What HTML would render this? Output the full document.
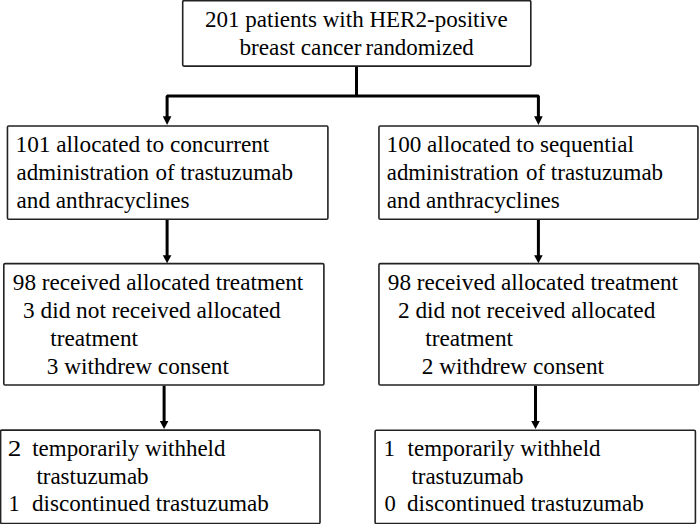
<!DOCTYPE html>
<html><head><meta charset="utf-8">
<style>
html,body{margin:0;padding:0;background:#fff;}
body{width:700px;height:524px;overflow:hidden;}
svg{display:block;}
text{font-family:"Liberation Serif",serif;font-size:24.0px;fill:#000;white-space:pre;}
</style></head>
<body>
<svg width="700" height="524" viewBox="0 0 700 524">
<rect x="0" y="0" width="700" height="524" fill="#fff"/>
<g fill="none" stroke="#222" stroke-width="1.6">
<rect x="182.7" y="0.6" width="348.1" height="65.5" rx="1.3"/>
<rect x="7.45" y="126.0" width="320.45" height="93.2" rx="1.3"/>
<rect x="378.95" y="125.95" width="319.0" height="93.25" rx="1.3"/>
<rect x="3.8" y="263.6" width="320.1" height="121.4" rx="1.3"/>
<rect x="378.95" y="263.6" width="320.05" height="121.4" rx="1.3"/>
<rect x="0.6" y="430.1" width="319.4" height="93.4" rx="1.3"/>
<rect x="375.1" y="430.2" width="320.3" height="93.3" rx="1.3"/>
</g>
<g stroke="#000" stroke-width="3.0" fill="none" stroke-linejoin="bevel">
<line x1="356.5" y1="66.8" x2="356.5" y2="96.1"/>
<polyline points="167.1,117 167.1,96.1 538.4,96.1 538.4,117"/>
<line x1="167.1" y1="220" x2="167.1" y2="256"/>
<line x1="538.4" y1="220" x2="538.4" y2="256"/>
<line x1="164.1" y1="385.8" x2="164.1" y2="422"/>
<line x1="535.5" y1="385.8" x2="535.5" y2="422"/>
</g>
<g fill="#000">
<polygon points="162.80,116.3 171.40,116.3 167.10,125"/>
<polygon points="534.10,116.3 542.70,116.3 538.40,125"/>
<polygon points="162.80,255.3 171.40,255.3 167.10,263.2"/>
<polygon points="534.10,255.3 542.70,255.3 538.40,263.2"/>
<polygon points="159.80,421 168.40,421 164.10,429.1"/>
<polygon points="531.20,421 539.80,421 535.50,429.1"/>
</g>
<text x="205.00" y="27.0" textLength="302.61" lengthAdjust="spacingAndGlyphs">201 patients with HER2-positive</text>
<text x="239.40" y="55.0" textLength="122.01" lengthAdjust="spacingAndGlyphs">breast cancer</text>
<text x="365.60" y="55.0" textLength="108.20" lengthAdjust="spacingAndGlyphs">randomized</text>
<text x="15.60" y="152.0" textLength="253.69" lengthAdjust="spacingAndGlyphs">101 allocated to concurrent</text>
<text x="16.60" y="180.0" textLength="132.46" lengthAdjust="spacingAndGlyphs">administration</text>
<text x="155.40" y="180.0" textLength="137.60" lengthAdjust="spacingAndGlyphs">of trastuzumab</text>
<text x="16.60" y="208.0" textLength="172.95" lengthAdjust="spacingAndGlyphs">and anthracyclines</text>
<text x="386.60" y="152.0" textLength="247.29" lengthAdjust="spacingAndGlyphs">100 allocated to sequential</text>
<text x="386.80" y="180.0" textLength="131.76" lengthAdjust="spacingAndGlyphs">administration</text>
<text x="526.00" y="180.0" textLength="137.10" lengthAdjust="spacingAndGlyphs">of trastuzumab</text>
<text x="386.80" y="208.0" textLength="172.95" lengthAdjust="spacingAndGlyphs">and anthracyclines</text>
<text x="12.80" y="290.0" textLength="290.52" lengthAdjust="spacingAndGlyphs">98 received allocated treatment</text>
<text x="23.00" y="318.0" textLength="257.72" lengthAdjust="spacingAndGlyphs">3 did not received allocated</text>
<text x="50.20" y="346.0" textLength="87.82" lengthAdjust="spacingAndGlyphs">treatment</text>
<text x="46.80" y="374.0" textLength="182.07" lengthAdjust="spacingAndGlyphs">3 withdrew consent</text>
<text x="387.80" y="290.0" textLength="290.22" lengthAdjust="spacingAndGlyphs">98 received allocated treatment</text>
<text x="398.00" y="318.0" textLength="257.32" lengthAdjust="spacingAndGlyphs">2 did not received allocated</text>
<text x="425.20" y="346.0" textLength="87.83" lengthAdjust="spacingAndGlyphs">treatment</text>
<text x="421.80" y="374.0" textLength="182.27" lengthAdjust="spacingAndGlyphs">2 withdrew consent</text>
<text x="7.80" y="456.0" textLength="13.60" lengthAdjust="spacingAndGlyphs">2</text>
<text x="32.20" y="456.0" textLength="193.25" lengthAdjust="spacingAndGlyphs">temporarily withheld</text>
<text x="36.40" y="484.0" textLength="112.20" lengthAdjust="spacingAndGlyphs">trastuzumab</text>
<text x="8.60" y="511.0" textLength="11.20" lengthAdjust="spacingAndGlyphs">1</text>
<text x="32.00" y="511.0" textLength="236.75" lengthAdjust="spacingAndGlyphs">discontinued trastuzumab</text>
<text x="383.40" y="456.0" textLength="11.60" lengthAdjust="spacingAndGlyphs">1</text>
<text x="407.60" y="456.0" textLength="192.95" lengthAdjust="spacingAndGlyphs">temporarily withheld</text>
<text x="411.40" y="484.0" textLength="112.20" lengthAdjust="spacingAndGlyphs">trastuzumab</text>
<text x="384.40" y="511.0" textLength="11.30" lengthAdjust="spacingAndGlyphs">0</text>
<text x="407.00" y="511.0" textLength="236.75" lengthAdjust="spacingAndGlyphs">discontinued trastuzumab</text>
</svg>
</body></html>
